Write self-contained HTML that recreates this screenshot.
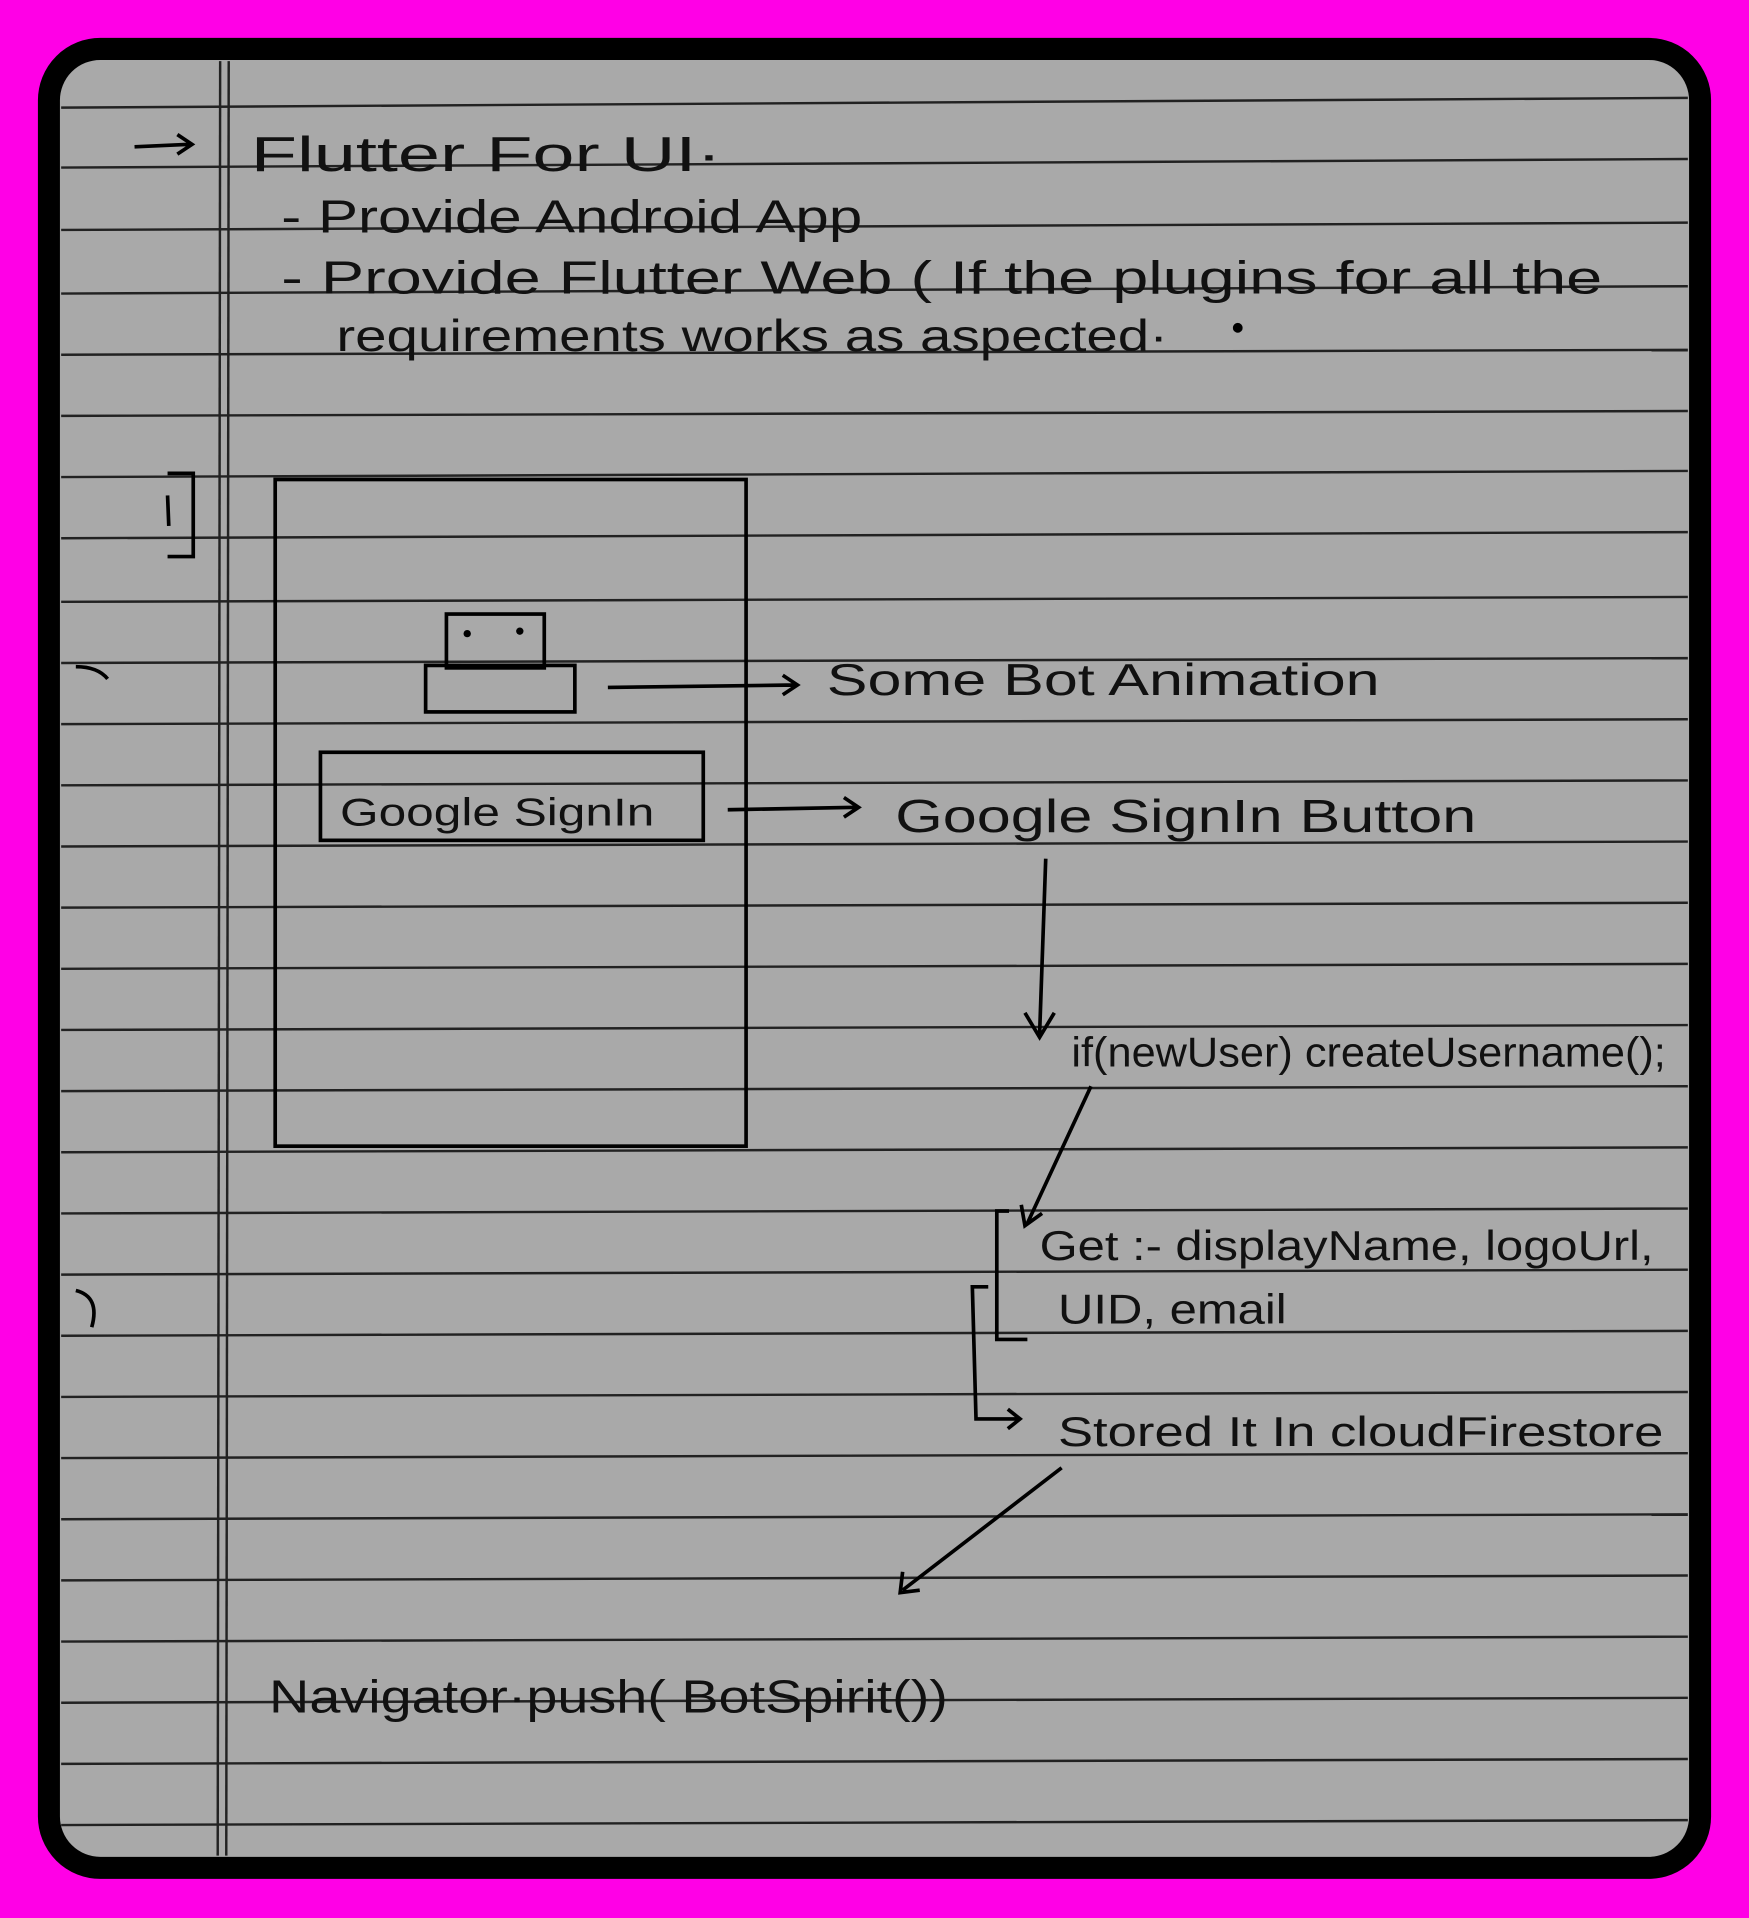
<!DOCTYPE html>
<html><head><meta charset="utf-8"><style>
html,body{margin:0;padding:0;background:#ff00e6;}
svg{display:block}
text{font-family:"Liberation Sans",sans-serif;fill:#111;}
</style></head><body>
<svg width="1749" height="1918" viewBox="0 0 1430 1568" preserveAspectRatio="none" xmlns="http://www.w3.org/2000/svg">
<rect x="0" y="0" width="1430" height="1568" fill="#ff00e6"/>
<rect x="40" y="40" width="1350" height="1487" rx="42" fill="#a9a9a9" stroke="#000" stroke-width="18"/>
<g stroke="#222" stroke-width="2" fill="none">
<line x1="50" y1="88" x2="1380" y2="80"/>
<line x1="50" y1="137" x2="1380" y2="130"/>
<line x1="50" y1="188" x2="1380" y2="182"/>
<line x1="50" y1="240" x2="1380" y2="234"/>
<line x1="50" y1="290" x2="1380" y2="286"/>
<line x1="50" y1="340" x2="1380" y2="336"/>
<line x1="50" y1="390" x2="1380" y2="385"/>
<line x1="50" y1="440" x2="1380" y2="435"/>
<line x1="50" y1="492" x2="1380" y2="488"/>
<line x1="50" y1="542" x2="1380" y2="538"/>
<line x1="50" y1="592" x2="1380" y2="588"/>
<line x1="50" y1="642" x2="1380" y2="638"/>
<line x1="50" y1="692" x2="1380" y2="688"/>
<line x1="50" y1="742" x2="1380" y2="738"/>
<line x1="50" y1="792" x2="1380" y2="788"/>
<line x1="50" y1="842" x2="1380" y2="838"/>
<line x1="50" y1="892" x2="1380" y2="888"/>
<line x1="50" y1="942" x2="1380" y2="938"/>
<line x1="50" y1="992" x2="1380" y2="988"/>
<line x1="50" y1="1042" x2="1380" y2="1038"/>
<line x1="50" y1="1092" x2="1380" y2="1088"/>
<line x1="50" y1="1142" x2="1380" y2="1138"/>
<line x1="50" y1="1192" x2="1380" y2="1188"/>
<line x1="50" y1="1242" x2="1380" y2="1238"/>
<line x1="50" y1="1292" x2="1380" y2="1288"/>
<line x1="50" y1="1342" x2="1380" y2="1338"/>
<line x1="50" y1="1392" x2="1380" y2="1388"/>
<line x1="50" y1="1442" x2="1380" y2="1438"/>
<line x1="50" y1="1492" x2="1380" y2="1488"/>
<line x1="180" y1="50" x2="178" y2="1517"/>
<line x1="187" y1="50" x2="185" y2="1517"/>
</g>
<g stroke="#000" stroke-width="3" fill="none">
<path d="M110 120 L155 118 M145 110 L157 118 L145 126"/>
<path d="M137 387 L158 387 L158 455 L137 455 M137 405 L138 430"/>
<path d="M62 545 Q80 545 88 555 M62 1055 Q82 1060 75 1085"/>
<rect x="225" y="392" width="385" height="545"/>
<rect x="365" y="502" width="80" height="44"/>
<rect x="348" y="544" width="122" height="38"/>
<rect x="262" y="615" width="313" height="72"/>
<path d="M497 562 L650 560 M640 552 L652 560 L640 568"/>
<path d="M595 662 L700 660 M690 652 L702 660 L690 668"/>
<path d="M855 702 L850 845 M838 828 L850 848 L862 828"/>
<path d="M892 888 L840 1000 M835 985 L838 1002 L852 992"/>
<path d="M825 990 L815 990 L815 1095 L840 1095"/>
<path d="M808 1052 L795 1052 L798 1160 L832 1160 M824 1152 L834 1160 L824 1168"/>
<path d="M868 1200 L738 1300 M738 1285 L736 1302 L752 1300"/>
</g>
<circle cx="382" cy="518" r="3" fill="#000"/><circle cx="425" cy="516" r="3" fill="#000"/>
<circle cx="1012" cy="268" r="4" fill="#000"/>
<text x="205" y="140" font-size="40" textLength="385" lengthAdjust="spacingAndGlyphs">Flutter For UI·</text>
<text x="230" y="190" font-size="38" textLength="475" lengthAdjust="spacingAndGlyphs">- Provide Android App</text>
<text x="230" y="240" font-size="38" textLength="1080" lengthAdjust="spacingAndGlyphs">- Provide Flutter Web ( If the plugins for all the</text>
<text x="275" y="287" font-size="36" textLength="680" lengthAdjust="spacingAndGlyphs">requirements works as aspected·</text>
<text x="278" y="675" font-size="32" textLength="257" lengthAdjust="spacingAndGlyphs">Google SignIn</text>
<text x="676" y="568" font-size="36" textLength="452" lengthAdjust="spacingAndGlyphs">Some Bot Animation</text>
<text x="732" y="680" font-size="38" textLength="475" lengthAdjust="spacingAndGlyphs">Google SignIn Button</text>
<text x="876" y="872" font-size="34" textLength="486" lengthAdjust="spacingAndGlyphs">if(newUser) createUsername();</text>
<text x="850" y="1030" font-size="34" textLength="502" lengthAdjust="spacingAndGlyphs">Get :- displayName, logoUrl,</text>
<text x="865" y="1082" font-size="34" textLength="187" lengthAdjust="spacingAndGlyphs">UID, email</text>
<text x="865" y="1182" font-size="34" textLength="495" lengthAdjust="spacingAndGlyphs">Stored It In cloudFirestore</text>
<text x="220" y="1400" font-size="38" textLength="555" lengthAdjust="spacingAndGlyphs">Navigator·push( BotSpirit())</text>
</svg>
</body></html>
